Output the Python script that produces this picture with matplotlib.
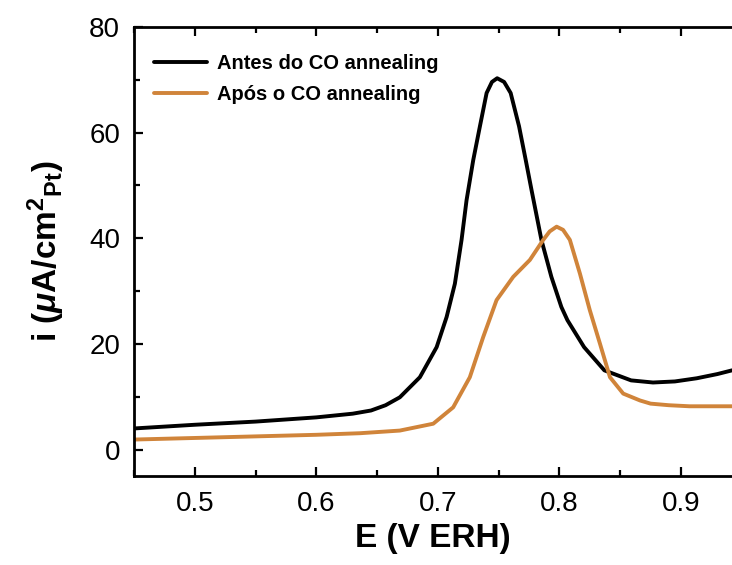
import matplotlib
matplotlib.use("Agg")
import matplotlib.pyplot as plt
from matplotlib.ticker import MultipleLocator

# potential (V vs ERH) and current density
e_antes = [0.45, 0.50, 0.55, 0.60, 0.63, 0.645, 0.657, 0.6687, 0.6852, 0.699,
           0.7072, 0.714, 0.7195, 0.7236, 0.7291, 0.7346, 0.7401, 0.7445,
           0.7488, 0.7545, 0.7599, 0.7668, 0.7723, 0.7771, 0.7852, 0.7934,
           0.8016, 0.8066, 0.8203, 0.837, 0.859, 0.877, 0.895, 0.913, 0.930,
           0.942]
i_antes = [4.0, 4.7, 5.3, 6.1, 6.8, 7.4, 8.4, 9.9, 13.7, 19.4,
           25.1, 31.4, 39.7, 47.2, 54.8, 61.2, 67.5, 69.6,
           70.3, 69.6, 67.5, 61.2, 54.8, 49.1, 39.7, 32.7,
           27.0, 24.5, 19.4, 15.0, 13.1, 12.7, 12.9, 13.5, 14.3,
           15.0]

e_apos = [0.45, 0.50, 0.55, 0.60, 0.636, 0.6687, 0.6962, 0.7126, 0.7263,
          0.7373, 0.7483, 0.7620, 0.7757, 0.7867, 0.792, 0.7977, 0.803,
          0.8086, 0.8169, 0.825, 0.8333, 0.8416, 0.8525, 0.8663, 0.875,
          0.89, 0.907, 0.942]
i_apos = [1.9, 2.2, 2.5, 2.8, 3.1, 3.6, 4.9, 8.0, 13.7,
          21.3, 28.3, 32.7, 35.9, 39.7, 41.3, 42.2, 41.6,
          39.7, 33.3, 26.4, 20.1, 13.7, 10.6, 9.3, 8.7,
          8.4, 8.2, 8.2]

labels = ["Antes do CO annealing", "Após o CO annealing"]
colors = ["black", "#D0843A"]

plt.rcParams["font.family"] = ["Liberation Sans", "DejaVu Sans"]
plt.rcParams["mathtext.fontset"] = "custom"
plt.rcParams["mathtext.rm"] = "Liberation Sans:bold"
plt.rcParams["mathtext.bf"] = "Liberation Sans:bold"
plt.rcParams["mathtext.it"] = "Liberation Sans:bold:italic"

fig = plt.figure(figsize=(7.32, 5.65), dpi=100)
ax = fig.add_axes([134 / 732, 89 / 565, 1 - 134 / 732, 449 / 565])

ax.plot(e_antes, i_antes, color=colors[0], lw=2.8, label=labels[0],
        solid_joinstyle="round", solid_capstyle="round")
ax.plot(e_apos, i_apos, color=colors[1], lw=2.8, label=labels[1],
        solid_joinstyle="round", solid_capstyle="round")

ax.set_xlim(0.45, 0.942)
ax.set_ylim(-5, 80)
ax.xaxis.set_major_locator(MultipleLocator(0.1))
ax.xaxis.set_minor_locator(MultipleLocator(0.05))
ax.yaxis.set_major_locator(MultipleLocator(20))
ax.yaxis.set_minor_locator(MultipleLocator(10))

ax.spines["right"].set_visible(False)
for s in ["left", "top", "bottom"]:
    ax.spines[s].set_linewidth(2.0)
ax.tick_params(which="both", direction="in", top=True, right=False, width=1.6)
ax.tick_params(which="major", length=6.5, labelsize=20)
ax.tick_params(which="minor", length=4)
ax.tick_params(axis="x", which="major", pad=11)
ax.tick_params(axis="y", which="major", pad=10)

ax.set_xlabel("E (V ERH)", fontsize=24, fontweight="bold", labelpad=4)
ax.set_ylabel(r"i ($\mathit{\mu}$A/cm$^{2}$$_{\mathrm{Pt}}$)", fontsize=24,
              fontweight="bold", labelpad=16)

ax.legend(loc="upper left", bbox_to_anchor=(0.033, 0.94), frameon=False,
          prop={"size": 14.5, "weight": "bold"}, handlelength=2.65,
          handletextpad=0.5, labelspacing=0.62, borderpad=0, borderaxespad=0)

fig.savefig("out.png", dpi=100)
